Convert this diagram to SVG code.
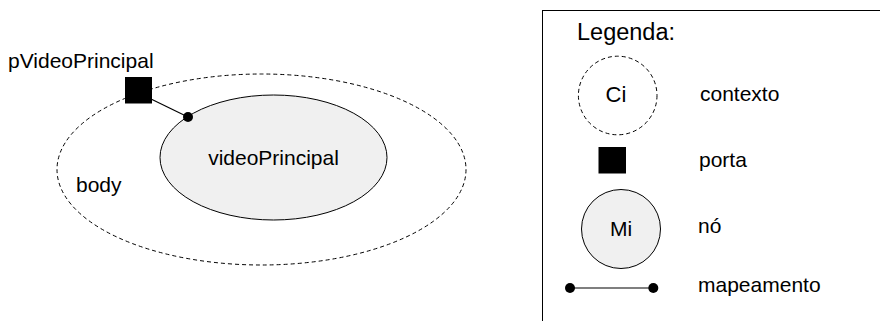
<svg xmlns="http://www.w3.org/2000/svg" width="880" height="321" viewBox="0 0 880 321">
<style>
text{font-family:"Liberation Sans",Arial,sans-serif;font-size:21px;fill:#000}
.ctx{fill:none;stroke:#000;stroke-width:1;stroke-dasharray:4,3}
.node{fill:#f0f0f0;stroke:#000;stroke-width:1}
.port{fill:#000}
.map{stroke:#000;stroke-width:1.2;fill:none}
.dot{fill:#000}
</style>
<rect width="880" height="321" fill="#fff"/>
<g id="body">
<ellipse class="ctx" cx="261.5" cy="169.5" rx="204.5" ry="95.5"/>
<text x="76" y="192">body</text>
</g>
<g id="videoPrincipal">
<ellipse class="node" cx="273.5" cy="157.5" rx="113.5" ry="62.5"/>
<text x="273.5" y="165" text-anchor="middle">videoPrincipal</text>
</g>
<g id="pVideoPrincipal">
<rect class="port" x="125" y="77" width="27" height="26.5"/>
<text x="8" y="68">pVideoPrincipal</text>
</g>
<g id="connectors">
<line class="map" x1="151" y1="99" x2="188" y2="117"/>
<circle class="dot" cx="188" cy="117" r="5"/>
</g>
<g id="legend">
<rect x="542.5" y="10.5" width="400" height="400" fill="none" stroke="#000" stroke-width="1"/>
<text x="577" y="40" style="font-size:23.5px">Legenda:</text>
<g id="legend-contexto">
<circle class="ctx" cx="617.7" cy="95.5" r="39.3"/>
<text x="616" y="102" text-anchor="middle" style="font-size:22px">Ci</text>
<text x="700" y="101">contexto</text>
</g>
<g id="legend-porta">
<rect class="port" x="598.5" y="147" width="27.5" height="26.5"/>
<text x="699" y="167">porta</text>
</g>
<g id="legend-no">
<circle class="node" cx="621" cy="229" r="39.5"/>
<text x="621" y="236" text-anchor="middle">Mi</text>
<text x="698" y="233">nó</text>
</g>
<g id="legend-mapeamento">
<line class="map" x1="570" y1="288" x2="653.3" y2="288"/>
<circle class="dot" cx="570" cy="288" r="5"/>
<circle class="dot" cx="653.3" cy="288" r="5"/>
<text x="698" y="292">mapeamento</text>
</g>
</g>
</svg>
